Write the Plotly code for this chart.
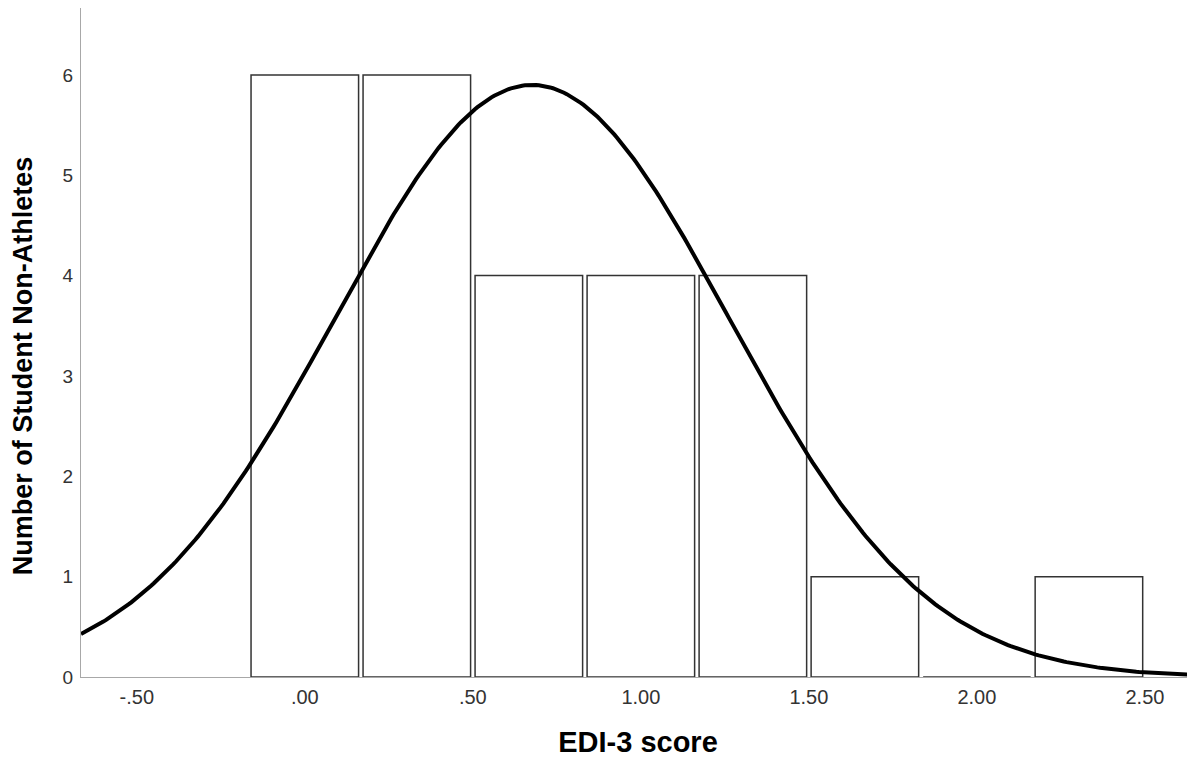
import numpy as np
import plotly.graph_objects as go

# Histogram data (bin centres, counts)
bin_centers = [0.0, 1/3, 2/3, 1.0, 4/3, 5/3, 2.0, 7/3]
counts = [6, 6, 4, 4, 4, 1, 0, 1]
bin_width = 1/3

# Fitted normal curve parameters
fit_mean = 0.676
fit_sd = 0.586

x_tickvals = [-0.5, 0.0, 0.5, 1.0, 1.5, 2.0, 2.5]
x_ticktext = ["-.50", ".00", ".50", "1.00", "1.50", "2.00", "2.50"]
y_tickvals = [0, 1, 2, 3, 4, 5, 6]

x_title = "EDI-3 score"
y_title = "Number of Student Non-Athletes"

x_range = [-0.666, 2.649]
y_range = [0, 6.667]

n_total = sum(counts)
xs = np.linspace(x_range[0], x_range[1], 400)
ys = n_total * bin_width / (fit_sd * np.sqrt(2 * np.pi)) * np.exp(-0.5 * ((xs - fit_mean) / fit_sd) ** 2)

fig = go.Figure()
fig.add_trace(go.Bar(
    x=bin_centers, y=counts, width=0.32,
    marker=dict(color="white", line=dict(color="#333333", width=1.5)),
    hoverinfo="x+y",
))
fig.add_trace(go.Scatter(
    x=xs, y=ys, mode="lines",
    line=dict(color="black", width=4),
    hoverinfo="skip",
))

font_family = "Liberation Sans, Arial, sans-serif"
fig.update_layout(
    width=1187, height=757,
    margin=dict(l=73, r=0, t=0, b=88),
    paper_bgcolor="white", plot_bgcolor="white",
    showlegend=False,
    font=dict(family=font_family, size=20, color="#333333"),
    xaxis=dict(
        range=x_range, tickvals=x_tickvals, ticktext=x_ticktext,
        showgrid=False, zeroline=False, showline=True,
        linecolor="#a8a8a8", linewidth=1, ticks="",
        ticklabelstandoff=2,
        tickfont=dict(size=20),
        title=dict(text="<b>" + x_title + "</b>", font=dict(size=29, color="black", family=font_family), standoff=24),
    ),
    yaxis=dict(
        range=y_range, tickvals=y_tickvals,
        showgrid=False, zeroline=False, showline=True,
        linecolor="#a8a8a8", linewidth=1, ticks="",
        ticklabelstandoff=3,
        tickfont=dict(size=19),
    ),
)
fig.add_annotation(
    text="<b>" + y_title + "</b>", textangle=-90,
    xref="paper", yref="paper", x=-0.0521, y=0.466,
    xanchor="center", yanchor="middle", showarrow=False,
    font=dict(size=27, color="black", family=font_family),
)

fig.write_html("out.html")
